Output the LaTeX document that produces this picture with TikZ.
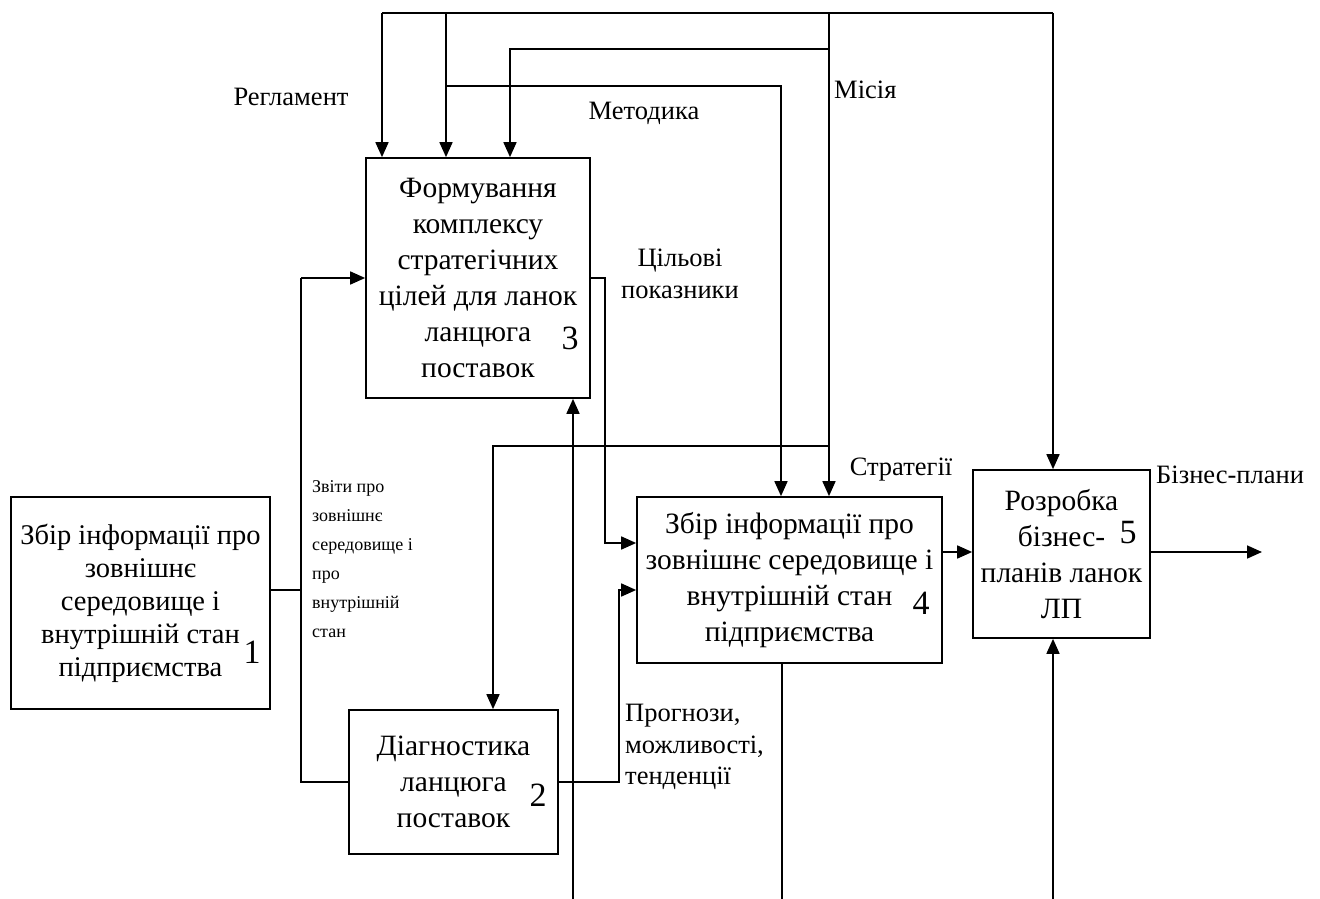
\documentclass[tikz,border=0pt]{standalone}
\usepackage{fontspec}
\setmainfont{Liberation Serif}
\usetikzlibrary{arrows.meta}
\begin{document}
\begin{tikzpicture}[x=1pt,y=-1pt,
  box/.style={draw, line width=1.7pt, inner sep=0pt, align=center, font=\fontsize{29.5}{36}\selectfont},
  conn/.style={line width=1.7pt},
  arr/.style={conn, -{Triangle[length=15pt,width=13pt]}},
  lbl/.style={inner sep=0pt, font=\fontsize{26.5}{31.5}\selectfont},
  small/.style={inner sep=0pt, align=left, font=\fontsize{18}{29}\selectfont},
  num/.style={inner sep=0pt, font=\fontsize{34}{34}\selectfont}]
\useasboundingbox (0,0) rectangle (1320,899);
\fill[white] (0,0) rectangle (1320,899);
% boxes
\node[box, minimum width=259pt, minimum height=212pt, font=\fontsize{28.5}{33}\selectfont] (b1) at (140.5,603) {Збір інформації про\\зовнішнє\\середовище і\\внутрішній стан\hspace{8pt}\\підприємства};
\node[box, minimum width=224pt, minimum height=240pt] (b3) at (478,278) {Формування\\комплексу\\стратегічних\\цілей для ланок\\ланцюга\\поставок};
\node[box, minimum width=209pt, minimum height=144pt] (b2) at (453.5,782) {Діагностика\\ланцюга\\поставок};
\node[box, minimum width=305pt, minimum height=166pt] (b4) at (789.5,580) {Збір інформації про\\зовнішнє середовище і\\внутрішній стан\\підприємства};
\node[box, minimum width=177pt, minimum height=168pt] (b5) at (1061.5,554) {Розробка\\бізнес-\\планів ланок\\ЛП};
% numbers
\node[num] (n1) at (252,652) {1};
\node[num] (n2) at (538,795) {2};
\node[num] (n3) at (570,338) {3};
\node[num] (n4) at (921,603) {4};
\node[num] (n5) at (1128,533) {5};
% coordinates
\coordinate (tl) at (382,13);
\coordinate (tr) at (1053,13);
\coordinate (tm1) at (446,13);
\coordinate (tm2) at (829,13);
\coordinate (m49) at (510,49);
\coordinate (m86) at (781,86);
\coordinate (s446) at (493,446);
\coordinate (c3) at (605,543);
\coordinate (c2) at (619,590);
\coordinate (lv) at (301,590);
\coordinate (bot3) at (573,899);
\coordinate (bot4) at (782,899);
\coordinate (bot5) at (1053,899);
\coordinate (out) at (1262,552);
% connectors
\draw[conn] (tl) -- (tr);
\draw[arr] (tl) -- (tl |- b3.north);
\draw[arr] (tr) -- (tr |- b5.north);
\draw[arr] (tm1) -- (tm1 |- b3.north);
\draw[arr] (tm2) -- (tm2 |- b4.north);
\draw[arr] (tm2 |- m49) -- (m49) -- (m49 |- b3.north);
\draw[arr] (tm1 |- m86) -- (m86) -- (m86 |- b4.north);
\draw[arr] (tm2 |- s446) -- (s446) -- (s446 |- b2.north);
\draw[arr] (b3.east) -- (c3 |- b3.east) -- (c3) -- (c3 -| b4.west);
\draw[arr] (b2.east) -- (c2 |- b2.east) -- (c2) -- (c2 -| b4.west);
\draw[conn] (lv -| b1.east) -- (lv);
\draw[arr] (lv |- b3.west) -- (b3.west);
\draw[conn] (lv |- b3.west) -- (lv |- b2.west) -- (b2.west);
\draw[arr] (bot3) -- (bot3 |- b3.south);
\draw[conn] (bot4 |- b4.south) -- (bot4);
\draw[arr] (bot5) -- (bot5 |- b5.south);
\draw[arr] (b4.east |- out) -- (out -| b5.west);
\draw[arr] (b5.east |- out) -- (out);
% labels
\node[lbl] (lreg) at (291,97) {Регламент};
\node[lbl] (lmet) at (644,113) {Методика};
\node[lbl, anchor=west] (lmis) at (834,90) {Місія};
\node[lbl, align=center] (lcil) at (680,274) {Цільові\\показники};
\node[lbl] (lstr) at (901,470) {Стратегії};
\node[lbl, anchor=west] (lbiz) at (1156,475) {Бізнес-плани};
\node[small, anchor=north west] (lzvit) at (312,480) {Звіти про\\зовнішнє\\середовище і\\про\\внутрішній\\стан};
\node[lbl, align=left, anchor=west] (lprog) at (625,747) {Прогнози,\\можливості,\\тенденції};
\end{tikzpicture}
\end{document}
